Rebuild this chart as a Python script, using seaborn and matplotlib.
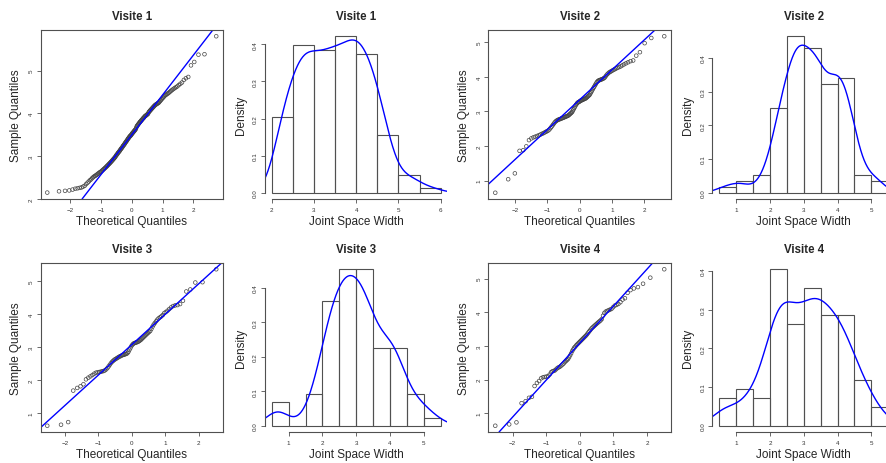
import numpy as np
import pandas as pd
import seaborn as sns
import matplotlib
matplotlib.use('Agg')
import matplotlib.pyplot as plt
from statistics import NormalDist

visite1 = [2.15, 2.18, 2.19, 2.20, 2.22, 2.24, 2.25, 2.26, 2.27, 2.29, 2.31, 2.35, 2.38, 2.41, 2.44, 2.46, 2.49,
           2.51, 2.53, 2.54, 2.56, 2.57, 2.59, 2.60, 2.62, 2.63, 2.64, 2.66, 2.67, 2.69, 2.70, 2.72, 2.73, 2.75,
           2.76, 2.78, 2.79, 2.81, 2.82, 2.84, 2.85, 2.87, 2.88, 2.90, 2.91, 2.93, 2.94, 2.96, 2.97, 2.99,
           3.01, 3.03, 3.04, 3.06, 3.08, 3.09, 3.11, 3.12, 3.14, 3.16, 3.17, 3.19, 3.20, 3.22, 3.24, 3.25,
           3.27, 3.28, 3.30, 3.32, 3.33, 3.35, 3.36, 3.38, 3.40, 3.41, 3.43, 3.44, 3.46, 3.47, 3.48, 3.49,
           3.51, 3.52, 3.54, 3.55, 3.56, 3.58, 3.59, 3.60, 3.62, 3.63, 3.66, 3.69, 3.71, 3.72, 3.74, 3.75,
           3.77, 3.78, 3.80, 3.81, 3.82, 3.84, 3.85, 3.86, 3.88, 3.89, 3.90, 3.92, 3.93, 3.94, 3.95, 3.96,
           3.97, 3.98, 3.99,
           4.02, 4.04, 4.05, 4.07, 4.08, 4.10, 4.11, 4.13, 4.14, 4.16, 4.17, 4.19, 4.20, 4.21, 4.22, 4.23,
           4.24, 4.25, 4.27, 4.29, 4.31, 4.33, 4.35, 4.37, 4.39, 4.41, 4.43, 4.44, 4.46, 4.47, 4.49,
           4.51, 4.53, 4.55, 4.57, 4.59, 4.61, 4.63, 4.66, 4.69, 4.72, 4.78, 4.82, 4.85,
           5.12, 5.20, 5.37, 5.38, 5.80]

visite2 = [0.65, 1.04, 1.21, 1.86, 1.88, 1.99,
           2.17, 2.22, 2.25, 2.27, 2.29, 2.31, 2.33, 2.35, 2.37, 2.39, 2.41, 2.43, 2.45, 2.48,
           2.52, 2.56, 2.60, 2.64, 2.68, 2.71, 2.73, 2.75, 2.76, 2.77, 2.78, 2.79, 2.80, 2.81, 2.82, 2.83,
           2.84, 2.85, 2.86, 2.87, 2.88, 2.90, 2.92, 2.94, 2.96, 2.98,
           3.02, 3.06, 3.10, 3.14, 3.18, 3.21, 3.24, 3.26, 3.27, 3.28, 3.30, 3.31, 3.32, 3.33, 3.34, 3.35,
           3.36, 3.37, 3.38, 3.40, 3.42, 3.44, 3.46, 3.48,
           3.52, 3.56, 3.60, 3.64, 3.68, 3.72, 3.76, 3.80, 3.84, 3.87, 3.89, 3.90, 3.91, 3.92, 3.93, 3.94,
           3.96, 3.98,
           4.02, 4.06, 4.09, 4.12, 4.14, 4.16, 4.18, 4.20, 4.22, 4.24, 4.26, 4.28, 4.30, 4.33, 4.36, 4.39,
           4.42, 4.45, 4.47,
           4.61, 4.71, 4.97, 5.12, 5.17]

visite3 = [0.63, 0.66, 0.74, 1.69, 1.77, 1.82, 1.88,
           2.03, 2.08, 2.12, 2.16, 2.20, 2.23, 2.24, 2.25, 2.26, 2.27, 2.28, 2.30, 2.33, 2.37, 2.42, 2.47,
           2.52, 2.56, 2.59, 2.62, 2.64, 2.66, 2.68, 2.70, 2.72, 2.73, 2.75, 2.76, 2.77, 2.78, 2.79, 2.80,
           2.82, 2.86, 2.92, 2.97,
           3.03, 3.07, 3.10, 3.12, 3.13, 3.14, 3.15, 3.16, 3.18, 3.20, 3.22, 3.25, 3.28, 3.31, 3.34, 3.37,
           3.40, 3.43, 3.46, 3.49,
           3.55, 3.62, 3.68, 3.73, 3.78, 3.83, 3.87, 3.90, 3.93, 3.97,
           4.03, 4.06, 4.10, 4.15, 4.20, 4.24, 4.26, 4.27, 4.30, 4.40,
           4.68, 4.74, 4.95, 4.96, 5.35]

visite4 = [0.63, 0.67, 0.73, 1.30, 1.36, 1.46, 1.49, 1.81, 1.90, 1.96,
           2.04, 2.07, 2.08, 2.09, 2.10, 2.15, 2.22, 2.25, 2.26, 2.28, 2.32, 2.35, 2.37, 2.39, 2.42, 2.45, 2.48,
           2.52, 2.55, 2.58, 2.61, 2.66, 2.72, 2.78, 2.85, 2.90, 2.95, 2.98,
           3.02, 3.05, 3.08, 3.11, 3.14, 3.17, 3.20, 3.23, 3.26, 3.29, 3.32, 3.36, 3.40, 3.44, 3.48,
           3.52, 3.55, 3.58, 3.61, 3.64, 3.67, 3.70, 3.73, 3.76, 3.80, 3.90, 3.98,
           4.02, 4.04, 4.06, 4.08, 4.10, 4.15, 4.20, 4.22, 4.25, 4.30, 4.38, 4.42,
           4.58, 4.66, 4.71, 4.75, 4.85, 5.03, 5.28]

titles = ['Visite 1', 'Visite 2', 'Visite 3', 'Visite 4']
breaks = [[2.0, 2.5, 3.0, 3.5, 4.0, 4.5, 5.0, 5.5, 6.0],
          [0.5, 1.0, 1.5, 2.0, 2.5, 3.0, 3.5, 4.0, 4.5, 5.0, 5.5],
          [0.5, 1.0, 1.5, 2.0, 2.5, 3.0, 3.5, 4.0, 4.5, 5.0, 5.5],
          [0.5, 1.0, 1.5, 2.0, 2.5, 3.0, 3.5, 4.0, 4.5, 5.0, 5.5]]
qq_xticks = [-2, -1, 0, 1, 2]
qq_yticks = [[2, 3, 4, 5], [1, 2, 3, 4, 5], [1, 2, 3, 4, 5], [1, 2, 3, 4, 5]]
hist_xticks = [[2, 3, 4, 5, 6], [1, 2, 3, 4, 5], [1, 2, 3, 4, 5], [1, 2, 3, 4, 5]]
hist_yticks = [0.0, 0.1, 0.2, 0.3, 0.4]

sns.set_style('ticks')
plt.rcParams['font.family'] = ['Liberation Sans', 'DejaVu Sans']

LINE = '#505050'
W, H = 887, 464
fig = plt.figure(figsize=(W / 100, H / 100), dpi=100)

lefts = [40.5, 265, 488.5, 712.5]
tops = [31, 264]
aw, ah = 182.5, 169


def add_ax(col, row):
    return fig.add_axes([lefts[col] / W, 1 - (tops[row] + ah) / H, aw / W, ah / H])


def ext(lo, hi):
    d = (hi - lo) * 0.04
    return lo - d, hi + d


def style(ax, title, xlabel, ylabel, box):
    for s in ax.spines.values():
        s.set_color(LINE)
        s.set_linewidth(0.8)
        s.set_visible(box)
    ax.spines['left'].set_visible(True)
    ax.spines['bottom'].set_visible(True)
    ax.tick_params(direction='out', length=3, width=0.6, color=LINE,
                   labelcolor='#333333', labelsize=4.5)
    ax.tick_params(axis='x', pad=3)
    ax.tick_params(axis='y', pad=2, labelrotation=90)
    for lab in ax.get_yticklabels():
        lab.set_va('center')
    ax.set_title(title, fontsize=8.3, fontweight='bold', pad=8)
    ax.set_xlabel(xlabel, fontsize=8.5, va='center')
    ax.set_ylabel(ylabel, fontsize=8.5, va='center')
    ax.xaxis.set_label_coords(0.5, -21.7 / ah)
    ax.yaxis.set_label_coords(-24.3 / aw, 0.5)
    ax.set_facecolor('none')


def qq_panel(ax, values, k):
    y = np.sort(np.asarray(values, dtype=float))
    n = len(y)
    nd = NormalDist()
    x = np.array([nd.inv_cdf((i - 0.5) / n) for i in range(1, n + 1)])
    df = pd.DataFrame({'theo': x, 'sample': y})
    sns.scatterplot(data=df, x='theo', y='sample', ax=ax, marker='o', s=7,
                    facecolors='none', edgecolor='#444444', linewidth=0.5)
    # qqline through the quartiles
    q1, q3 = np.quantile(y, [0.25, 0.75])
    t1, t3 = nd.inv_cdf(0.25), nd.inv_cdf(0.75)
    slope = (q3 - q1) / (t3 - t1)
    ax.axline((t1, q1), slope=slope, color='blue', linewidth=1.0)
    ax.set_xlim(*ext(x.min(), x.max()))
    ax.set_ylim(*ext(y.min(), y.max()))
    ax.set_xticks(qq_xticks)
    ax.set_yticks(qq_yticks[k])
    style(ax, titles[k], 'Theoretical Quantiles', 'Sample Quantiles', True)


def hist_panel(ax, values, k):
    v = np.asarray(values, dtype=float)
    b = breaks[k]
    sns.histplot(x=v, bins=b, stat='density', fill=False, color=LINE,
                 linewidth=0.8, ax=ax)
    # R's default bandwidth (nrd0)
    sd = v.std(ddof=1)
    iqr = np.subtract(*np.quantile(v, [0.75, 0.25]))
    bw = 0.9 * min(sd, iqr / 1.34) * len(v) ** -0.2
    sns.kdeplot(x=v, bw_method=bw / sd, cut=3, gridsize=512, color='blue',
                linewidth=1.0, ax=ax)
    dens, _ = np.histogram(v, bins=b, density=True)
    ax.set_xlim(*ext(b[0], b[-1]))
    ax.set_ylim(*ext(0, dens.max()))
    ax.set_xticks(hist_xticks[k])
    ax.set_yticks(hist_yticks)
    ax.set_yticklabels([f'{t:.1f}' for t in hist_yticks])
    style(ax, titles[k], 'Joint Space Width', 'Density', False)
    ax.spines['bottom'].set_bounds(hist_xticks[k][0], hist_xticks[k][-1])
    ax.spines['left'].set_bounds(hist_yticks[0], hist_yticks[-1])


data = [visite1, visite2, visite3, visite4]
for k, vals in enumerate(data):
    row = k // 2
    col = (k % 2) * 2
    qq_panel(add_ax(col, row), vals, k)
    hist_panel(add_ax(col + 1, row), vals, k)

fig.savefig('out.png', dpi=100)
